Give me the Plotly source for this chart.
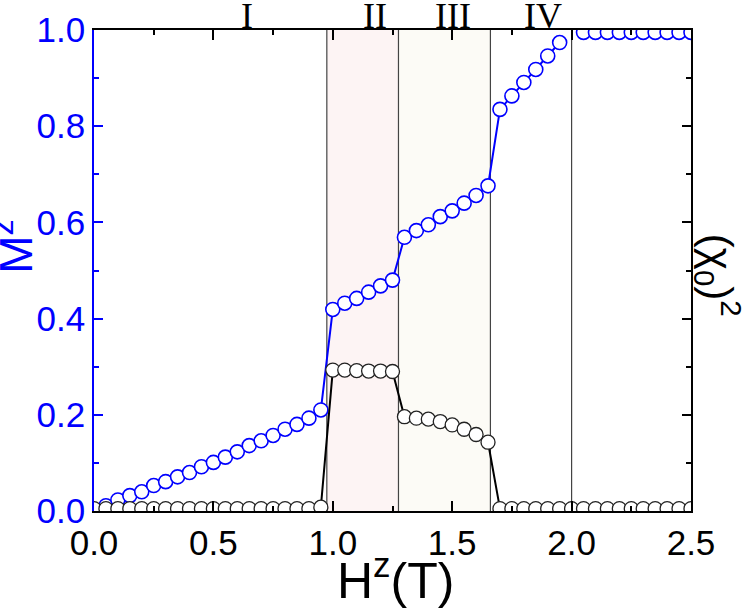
import plotly.graph_objects as go

# field values (T) and magnetisation M^z
h_mz = [0.0, 0.05, 0.1, 0.15, 0.2, 0.25, 0.3, 0.35, 0.4, 0.45, 0.5, 0.55, 0.6, 0.65, 0.7,
        0.75, 0.8, 0.85, 0.9, 0.95,
        1.0, 1.05, 1.1, 1.15, 1.2, 1.25,
        1.3, 1.35, 1.4, 1.45, 1.5, 1.55, 1.6, 1.65,
        1.7, 1.75, 1.8, 1.85, 1.9, 1.95]
mz = [0.0, 0.011, 0.023, 0.032, 0.040, 0.053, 0.061, 0.071, 0.080, 0.092, 0.101, 0.112,
      0.123, 0.136, 0.146, 0.157, 0.170, 0.180, 0.193, 0.210,
      0.419, 0.432, 0.442, 0.455, 0.468, 0.480,
      0.569, 0.583, 0.595, 0.612, 0.624, 0.640, 0.656, 0.676,
      0.835, 0.863, 0.891, 0.918, 0.946, 0.974]

h_sat = [2.05, 2.1, 2.15, 2.2, 2.25, 2.3, 2.35, 2.4, 2.45, 2.5]
mz_sat = [0.995, 0.995, 0.995, 0.995, 0.995, 0.995, 0.995, 0.995, 0.995, 0.995]

# (chi_0)^2
h_chi = [0.0, 0.05, 0.1, 0.15, 0.2, 0.25, 0.3, 0.35, 0.4, 0.45, 0.5, 0.55, 0.6, 0.65, 0.7,
         0.75, 0.8, 0.85, 0.9, 0.95,
         1.0, 1.05, 1.1, 1.15, 1.2, 1.25,
         1.3, 1.35, 1.4, 1.45, 1.5, 1.55, 1.6, 1.65,
         1.7, 1.75, 1.8, 1.85, 1.9, 1.95, 2.0, 2.05, 2.1, 2.15, 2.2, 2.25, 2.3, 2.35,
         2.4, 2.45, 2.5]
chi2 = [0.005, 0.005, 0.005, 0.005, 0.005, 0.005, 0.005, 0.005, 0.005, 0.005, 0.005,
        0.005, 0.005, 0.005, 0.005, 0.005, 0.005, 0.005, 0.005, 0.008,
        0.293, 0.293, 0.292, 0.291, 0.291, 0.290,
        0.196, 0.193, 0.191, 0.186, 0.179, 0.170, 0.159, 0.143,
        0.005, 0.005, 0.005, 0.005, 0.005, 0.005, 0.005, 0.005, 0.005, 0.005, 0.005,
        0.005, 0.005, 0.005, 0.005, 0.005, 0.005]

# phase boundaries and labels
bounds = [0.975, 1.275, 1.66, 2.0]
phase_names = ["I", "II", "III", "IV"]
phase_x = [0.64, 1.176, 1.503, 1.879]

BLUE = "#0000ff"
FONT = "Arial, Liberation Sans, sans-serif"

fig = go.Figure()

fig.add_trace(go.Scatter(
    x=h_mz, y=mz, mode="lines+markers", name="Mz",
    line=dict(color=BLUE, width=2),
    marker=dict(size=14, color="white", line=dict(color=BLUE, width=1.6)),
))
fig.add_trace(go.Scatter(
    x=h_sat, y=mz_sat, mode="lines+markers", name="Mz sat",
    line=dict(color=BLUE, width=2),
    marker=dict(size=14, color="white", line=dict(color=BLUE, width=1.6)),
))
fig.add_trace(go.Scatter(
    x=h_chi, y=chi2, mode="lines+markers", name="chi2", yaxis="y2",
    line=dict(color="black", width=2),
    marker=dict(size=14, color="white", line=dict(color="#222222", width=1.3)),
))

# shaded phases II and III
fig.add_vrect(x0=bounds[0], x1=bounds[1], fillcolor="#fdf4f4", line_width=0, layer="below")
fig.add_vrect(x0=bounds[1], x1=bounds[2], fillcolor="#fcfbf6", line_width=0, layer="below")
for b in bounds:
    fig.add_shape(type="line", x0=b, x1=b, y0=0, y1=1, xref="x", yref="paper",
                  line=dict(color="#444444", width=1.2), layer="below")

for name, px in zip(phase_names, phase_x):
    fig.add_annotation(x=px, y=1, xref="x", yref="paper", text=name, showarrow=False,
                       xanchor="center", yanchor="bottom", yshift=-8,
                       font=dict(family="Liberation Serif, Times New Roman, serif",
                                 size=36, color="black"))

fig.add_annotation(x=-0.135, y=0.55, xref="paper", yref="paper", text="M<sup>z</sup>",
                   textangle=-90, showarrow=False, xanchor="center", yanchor="middle",
                   font=dict(family=FONT, size=46, color=BLUE))
fig.add_annotation(x=1.046, y=0.49, xref="paper", yref="paper",
                   text="(χ<sub>0</sub>)<sup>2</sup>", textangle=90, showarrow=False,
                   xanchor="center", yanchor="middle",
                   font=dict(family=FONT, size=42, color="black"))
fig.add_annotation(x=0.505, y=-0.066, xref="paper", yref="paper", text="H<sup>z</sup>(T)",
                   showarrow=False, xanchor="center", yanchor="top",
                   font=dict(family=FONT, size=50, color="black"))

fig.update_layout(
    width=750, height=612,
    margin=dict(l=94, r=59, t=30, b=101),
    paper_bgcolor="white", plot_bgcolor="white",
    showlegend=False,
    font=dict(family=FONT, color="black"),
    xaxis=dict(
        range=[0, 2.5], dtick=0.5, tick0=0, tickformat=".1f", automargin=False,
        showgrid=False, zeroline=False,
        showline=True, linecolor="black", linewidth=1.5, mirror="ticks",
        ticks="inside", ticklen=10, tickwidth=1.5, tickcolor="black",
        minor=dict(dtick=0.25, ticks="inside", ticklen=5, tickwidth=1.5, tickcolor="black"),
        tickfont=dict(size=35, color="black"),
    ),
    yaxis=dict(
        range=[0, 1], dtick=0.2, tick0=0, tickformat=".1f", automargin=False,
        showgrid=False, zeroline=False,
        showline=True, linecolor=BLUE, linewidth=1.5,
        ticks="inside", ticklen=9, tickwidth=1.5, tickcolor=BLUE,
        minor=dict(dtick=0.1, ticks="inside", ticklen=5, tickwidth=1.5, tickcolor=BLUE),
        tickfont=dict(size=35, color=BLUE),
    ),
    yaxis2=dict(
        range=[0, 1], dtick=0.2, tick0=0, overlaying="y", side="right", automargin=False,
        showgrid=False, zeroline=False, showticklabels=False,
        showline=True, linecolor="black", linewidth=1.5,
        ticks="inside", ticklen=9, tickwidth=1.5, tickcolor="black",
        minor=dict(dtick=0.1, ticks="inside", ticklen=5, tickwidth=1.5, tickcolor="black"),
    ),
)

# drop the browser's default body margin so the figure sits at the page corner
fig.write_html("out.html", config={"displayModeBar": False},
               post_script="document.body.style.margin = '0';")
